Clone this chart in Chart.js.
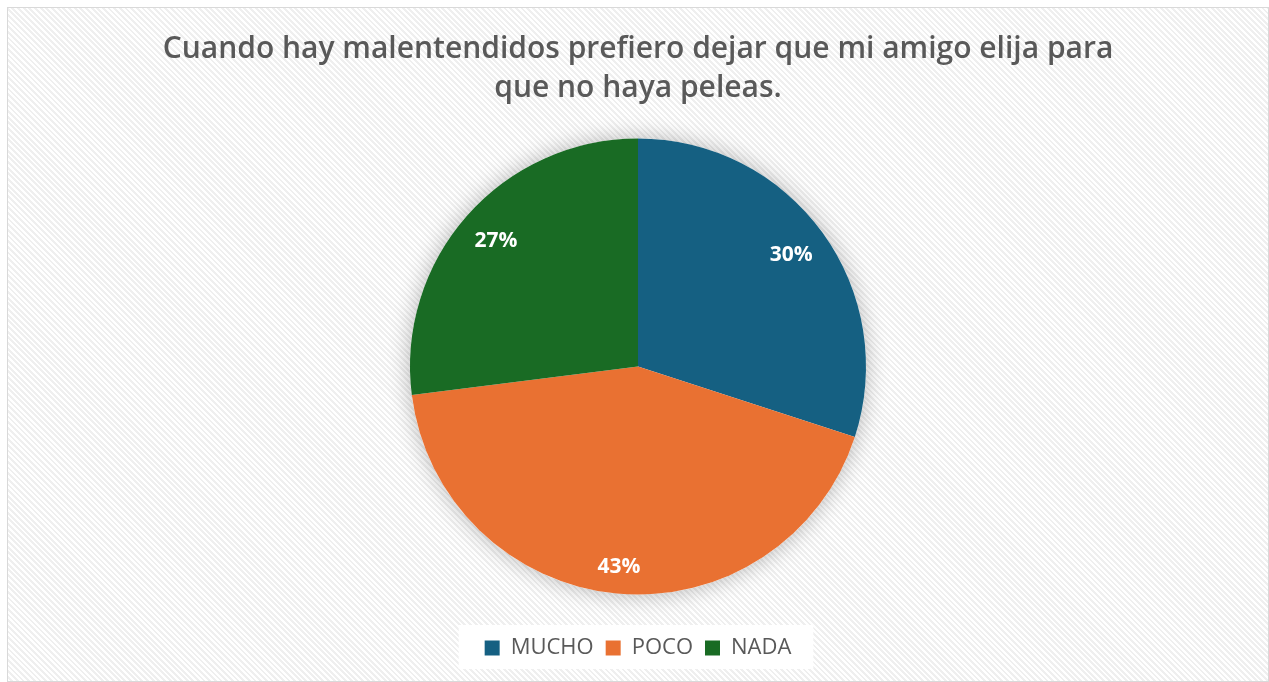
<!DOCTYPE html>
<html>
<head>
<meta charset="utf-8">
<script src="https://cdn.jsdelivr.net/npm/chart.js@4/dist/chart.umd.min.js"></script>
<style>
  html, body { margin: 0; padding: 0; background: #fff; }
  #box {
    position: absolute; left: 7px; top: 7px; width: 1262px; height: 675px;
    box-sizing: border-box; border: 1px solid #d9d9d9;
    background: repeating-linear-gradient(45deg, #ffffff 0px, #ffffff 2px, #efefef 2px, #efefef 4px);
  }
  #box canvas { display: block; }
</style>
</head>
<body>
<div id="box"><canvas id="pie"></canvas></div>
<script>
const titleLines = ['Cuando hay malentendidos prefiero dejar que mi amigo elija para', 'que no haya peleas.'];
const categories = ['MUCHO', 'POCO', 'NADA'];
const percents = [30, 43, 27];
const colors = ['#156082', '#E97132', '#196B24'];

// how far out each percentage label sits, as a share of the radius
const labelReach = [0.83, 0.885, 0.83];

// soft halo under the pie, drawn from the arc geometry
const pieShadow = {
  id: 'pieShadow',
  beforeDatasetsDraw(chart) {
    const arc = chart.getDatasetMeta(0).data[0];
    if (!arc) return;
    const ctx = chart.ctx;
    ctx.save();
    ctx.shadowColor = 'rgba(0,0,0,0.28)';
    ctx.shadowBlur = 22;
    ctx.fillStyle = '#ffffff';
    ctx.beginPath();
    ctx.arc(arc.x, arc.y, arc.outerRadius, 0, Math.PI * 2);
    ctx.fill();
    ctx.restore();
  }
};

// percentage labels inside each slice
const sliceLabels = {
  id: 'sliceLabels',
  afterDatasetsDraw(chart) {
    const ctx = chart.ctx;
    ctx.save();
    ctx.fillStyle = '#ffffff';
    ctx.font = 'bold 21px "Open Sans", sans-serif';
    ctx.textAlign = 'center';
    ctx.textBaseline = 'middle';
    chart.getDatasetMeta(0).data.forEach((arc, i) => {
      const mid = (arc.startAngle + arc.endAngle) / 2;
      const r = arc.outerRadius * labelReach[i];
      ctx.fillText(percents[i] + '%', arc.x + Math.cos(mid) * r, arc.y + Math.sin(mid) * r);
    });
    ctx.restore();
  }
};

// white panel behind the legend
const legendPanel = {
  id: 'legendPanel',
  beforeDraw(chart) {
    const lg = chart.legend;
    if (!lg || !lg.legendHitBoxes || !lg.legendHitBoxes.length) return;
    const boxes = lg.legendHitBoxes;
    const left = Math.min(...boxes.map(b => b.left)) - 26;
    const right = Math.max(...boxes.map(b => b.left + b.width)) + 22;
    const ctx = chart.ctx;
    ctx.save();
    ctx.fillStyle = '#ffffff';
    ctx.fillRect(left, lg.top, right - left, lg.height);
    ctx.restore();
  }
};

new Chart(document.getElementById('pie'), {
  type: 'pie',
  data: {
    labels: categories,
    datasets: [{
      data: percents,
      backgroundColor: colors,
      borderWidth: 0,
      radius: 228
    }]
  },
  options: {
    responsive: true,
    maintainAspectRatio: false,
    animation: false,
    layout: { padding: { bottom: 12 } },
    plugins: {
      title: {
        display: true,
        text: titleLines,
        color: '#595959',
        font: { family: 'Open Sans', size: 30, weight: '600', lineHeight: 1.3 },
        padding: { top: 22, bottom: 0 }
      },
      legend: {
        position: 'bottom',
        labels: {
          color: '#595959',
          font: { family: 'Open Sans', size: 22 },
          boxWidth: 15,
          boxHeight: 15,
          padding: 12
        }
      },
      tooltip: { enabled: false }
    }
  },
  plugins: [pieShadow, sliceLabels, legendPanel]
});
</script>
</body>
</html>
